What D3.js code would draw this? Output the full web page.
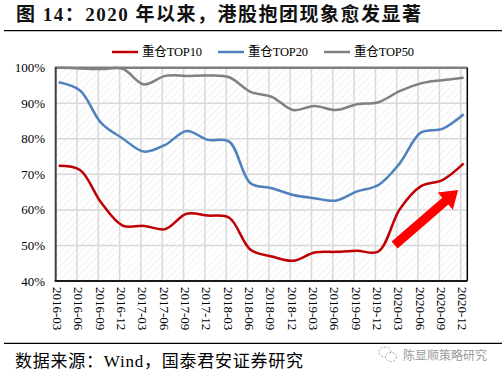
<html>
<head>
<meta charset="utf-8">
<script src="https://d3js.org/d3.v7.min.js"></script>
<style>
  body { margin: 0; background: #fff; }
</style>
</head>
<body>
<svg id="chart"></svg>
<script>
// 季度标签
var quarters = ["2016-03","2016-06","2016-09","2016-12","2017-03","2017-06","2017-09","2017-12",
  "2018-03","2018-06","2018-09","2018-12","2019-03","2019-06","2019-09","2019-12",
  "2020-03","2020-06","2020-09","2020-12"]

// 重仓股市值占比 (%)
var top10 = [72.4,71.2,62.0,55.6,55.5,54.6,58.9,58.4,57.8,48.8,46.9,45.7,48.0,48.2,48.5,48.3,60.2,66.7,68.4,73.1]
var top20 = [95.9,93.6,84.4,80.1,76.4,78.3,82.2,79.7,79.2,67.5,66.1,64.2,63.3,62.6,65.2,67.0,73.1,81.8,82.8,86.9]
var top50 = [100.0,99.8,99.6,99.7,95.3,97.7,97.7,97.8,97.3,93.2,91.8,88.1,89.2,88.1,89.7,90.3,93.4,95.6,96.5,97.2]

var seriesNames = ["重仓TOP10","重仓TOP20","重仓TOP50"]
var seriesColors = ["#c00000","#4f81bd","#808080"]
var yTicks = [40,50,60,70,80,90,100]

// 箭头 (季度序号, 百分比)
var arrowFrom = [15.9, 50.1]
var arrowTo = [18.88, 65.6]

var width = 502, height = 377
var pLeft = 55.7, pRight = 467.3, pTop = 67.7, pBottom = 281

var svg = d3.select("#chart")
  .attr("width", width)
  .attr("height", height)

var x = d3.scaleLinear().domain([0, 19]).range([pLeft, 460.7])
var y = d3.scaleLinear().domain([40, 100]).range([pBottom, pTop])
var offset = 0.14  // 数据点略偏于刻度线右侧

// 斜线底纹
var defs = svg.append("defs")
defs.append("pattern")
  .attr("id", "hatch")
  .attr("patternUnits", "userSpaceOnUse")
  .attr("width", 5).attr("height", 5)
  .attr("patternTransform", "rotate(45)")
  .append("line")
  .attr("x1", 0).attr("y1", 0).attr("x2", 0).attr("y2", 5)
  .attr("stroke", "#e9e9e9").attr("stroke-width", 1.2)

svg.append("rect")
  .attr("x", pLeft).attr("y", pTop)
  .attr("width", pRight - pLeft).attr("height", pBottom - pTop)
  .attr("fill", "url(#hatch)")

// 网格
svg.append("g").selectAll("line")
  .data(yTicks)
  .join("line")
  .attr("x1", pLeft).attr("x2", pRight)
  .attr("y1", d => y(d)).attr("y2", d => y(d))
  .attr("stroke", "#d9d9d9").attr("stroke-width", 1.5)

svg.append("g").selectAll("line")
  .data(quarters)
  .join("line")
  .attr("x1", (d, i) => x(i)).attr("x2", (d, i) => x(i))
  .attr("y1", pTop).attr("y2", pBottom)
  .attr("stroke", "#d9d9d9").attr("stroke-width", 1.5)

// 边框
svg.append("line").attr("x1", pLeft).attr("x2", pRight).attr("y1", pTop).attr("y2", pTop)
  .attr("stroke", "#7f7f7f").attr("stroke-width", 2.5)
svg.append("line").attr("x1", pRight).attr("x2", pRight).attr("y1", pTop).attr("y2", pBottom)
  .attr("stroke", "#000").attr("stroke-width", 1.5)
svg.append("line").attr("x1", pLeft).attr("x2", pLeft).attr("y1", pTop - 1).attr("y2", pBottom)
  .attr("stroke", "#404040").attr("stroke-width", 2)
svg.append("line").attr("x1", pLeft - 1).attr("x2", pRight).attr("y1", pBottom).attr("y2", pBottom)
  .attr("stroke", "#1a1a1a").attr("stroke-width", 2)

// 曲线
var line = d3.line()
  .x((d, i) => x(i + offset))
  .y(d => y(d))
  .curve(d3.curveCatmullRom.alpha(0.5))

var allSeries = [top50, top20, top10]
var allColors = [seriesColors[2], seriesColors[1], seriesColors[0]]

svg.append("g").selectAll("path")
  .data(allSeries)
  .join("path")
  .attr("d", d => line(d))
  .attr("fill", "none")
  .attr("stroke", (d, i) => allColors[i])
  .attr("stroke-width", 2.5)
  .attr("stroke-linejoin", "round")

// 红色箭头
var ax0 = x(arrowFrom[0]), ay0 = y(arrowFrom[1])
var ax1 = x(arrowTo[0]), ay1 = y(arrowTo[1])
var ang = Math.atan2(ay1 - ay0, ax1 - ax0)
var len = Math.hypot(ax1 - ax0, ay1 - ay0)
var shaftW = 4.6, headW = 11.5, headL = 17
var pts = [[0, -shaftW], [len - headL, -shaftW], [len - headL, -headW], [len, 0],
  [len - headL, headW], [len - headL, shaftW], [0, shaftW]]
svg.append("path")
  .attr("d", d3.line()(pts) + "Z")
  .attr("transform", `translate(${ax0},${ay0}) rotate(${ang * 180 / Math.PI})`)
  .attr("fill", "#ff0000")

// Y轴标签
svg.append("g").selectAll("text")
  .data(yTicks)
  .join("text")
  .attr("x", 45).attr("y", d => y(d))
  .attr("dy", "0.35em")
  .attr("text-anchor", "end")
  .attr("font-family", "'Liberation Serif', 'Times New Roman', serif")
  .attr("font-size", 13)
  .attr("fill", "#000")
  .text(d => d + "%")

// X轴标签
svg.append("g").selectAll("text")
  .data(quarters)
  .join("text")
  .attr("transform", (d, i) => `translate(${x(i) + 2},287) rotate(90)`)
  .attr("dy", "0.35em")
  .attr("text-anchor", "start")
  .attr("font-family", "'Liberation Serif', 'Times New Roman', serif")
  .attr("font-size", 13)
  .attr("fill", "#000")
  .text(d => d)

// 图例
var legendX = [112, 218, 324]
var lg = svg.append("g").selectAll("g")
  .data(seriesNames)
  .join("g")
  .attr("transform", (d, i) => `translate(${legendX[i]},52)`)
lg.append("line")
  .attr("x1", 0).attr("x2", 26)
  .attr("stroke", (d, i) => seriesColors[i])
  .attr("stroke-width", 2.5)
lg.append("text")
  .attr("x", 30).attr("dy", "0.35em")
  .attr("font-family", "'Liberation Serif', 'Noto Sans CJK SC', serif")
  .attr("font-size", 12.5)
  .attr("fill", "#000")
  .attr("textLength", 60)
  .attr("lengthAdjust", "spacing")
  .text(d => d)

// 标题
svg.append("text")
  .attr("x", 16).attr("y", 21)
  .attr("font-family", "'Liberation Serif', 'Noto Sans CJK SC', serif")
  .attr("font-weight", "bold")
  .attr("font-size", 19)
  .attr("fill", "#111")
  .attr("textLength", 405)
  .attr("lengthAdjust", "spacing")
  .text("图 14：2020 年以来，港股抱团现象愈发显著")

svg.append("line").attr("x1", 4).attr("x2", 502).attr("y1", 30.7).attr("y2", 30.7)
  .attr("stroke", "#000").attr("stroke-width", 1.3)
svg.append("line").attr("x1", 4).attr("x2", 502).attr("y1", 343.3).attr("y2", 343.3)
  .attr("stroke", "#000").attr("stroke-width", 1.3)

// 数据来源
svg.append("text")
  .attr("x", 15).attr("y", 367)
  .attr("font-family", "'Liberation Serif', 'Noto Sans CJK SC', serif")
  .attr("font-size", 17)
  .attr("fill", "#000")
  .attr("textLength", 288)
  .attr("lengthAdjust", "spacing")
  .text("数据来源：Wind，国泰君安证券研究")

// 水印
var wm = svg.append("g").attr("fill", "none").attr("stroke", "#a0a0a0").attr("stroke-width", 0.9)
wm.append("ellipse").attr("cx", 385).attr("cy", 352).attr("rx", 6).attr("ry", 5)
  .attr("stroke-dasharray", "2,1.5")
wm.append("ellipse").attr("cx", 391).attr("cy", 357).attr("rx", 5.5).attr("ry", 4.5)
  .attr("fill", "#fff").attr("stroke-dasharray", "2,1.5")
svg.append("text")
  .attr("x", 403).attr("y", 359.5)
  .attr("font-family", "'Noto Sans CJK SC', sans-serif")
  .attr("font-size", 12)
  .attr("fill", "#9a9a9a")
  .text("陈显顺策略研究")
</script>
</body>
</html>
